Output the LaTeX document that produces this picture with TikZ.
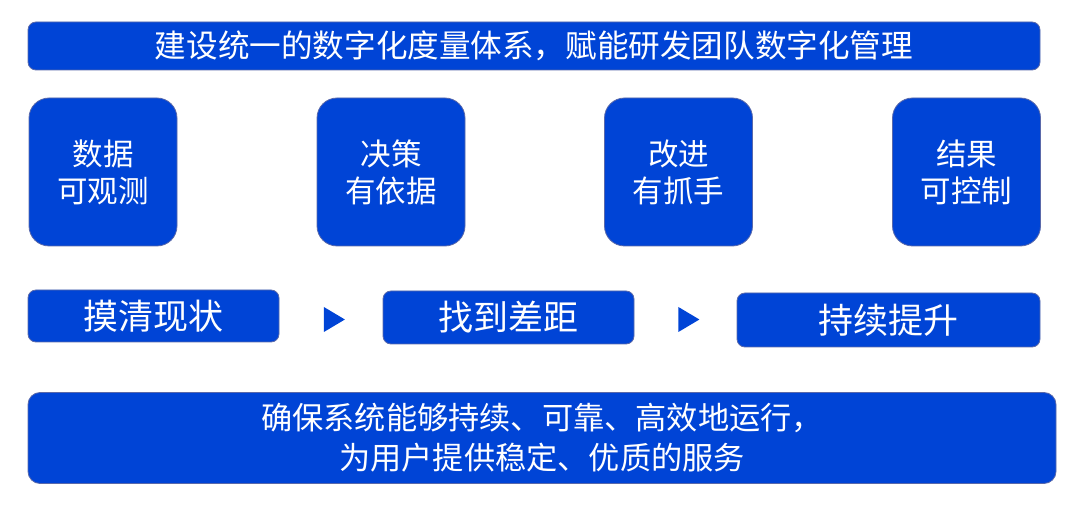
\documentclass[tikz,border=0pt]{standalone}
\usepackage{fontspec}
\setmainfont{Noto Sans CJK SC}
\usetikzlibrary{shapes.geometric}
\definecolor{bl}{RGB}{0,68,214}
\definecolor{bd}{RGB}{90,105,170}
\tikzset{
  bar/.style={draw=bd, line width=0.8pt, fill=bl, rounded corners=8pt, text=white, inner sep=0pt, align=center},
  sq/.style={draw=bd, line width=0.8pt, fill=bl, rounded corners=20pt, text=white, inner sep=0pt, align=center,
     minimum width=148pt, minimum height=148pt, font=\fontsize{30.5}{37}\selectfont},
  tri/.style={isosceles triangle, isosceles triangle apex angle=60, fill=bl, inner sep=0pt,
     minimum height=21pt, minimum width=25pt, isosceles triangle stretches}
}
\begin{document}
\begin{tikzpicture}[x=1pt,y=-1pt]
\useasboundingbox (0,0) rectangle (1080,513);
\node[bar, minimum width=1012pt, minimum height=48pt, font=\fontsize{31.6}{36}\selectfont] (top) at (534,46) {建设统一的数字化度量体系，赋能研发团队数字化管理};
\node[sq] (b1) at (103,172) {数据\\可观测};
\node[sq] (b2) at (391,172) {决策\\有依据};
\node[sq] (b3) at (678.5,172) {改进\\有抓手};
\node[sq] (b4) at (966.5,172) {结果\\可控制};
\node[bar, minimum width=251pt, minimum height=52pt, font=\fontsize{35}{40}\selectfont] (s1) at (153.5,316) {摸清现状};
\node[bar, minimum width=251pt, minimum height=53pt, font=\fontsize{35}{40}\selectfont] (s2) at (508.5,317.5) {找到差距};
\node[bar, minimum width=303pt, minimum height=54pt, font=\fontsize{35}{40}\selectfont] (s3) at (888.5,320) {持续提升};
\node[tri] (a1) at (331,319.5) {};
\node[tri] (a2) at (685.5,319.5) {};
\node[bar, rounded corners=12pt, minimum width=1028pt, minimum height=91pt, font=\fontsize{31.2}{40}\selectfont] (bot) at (542,438) {确保系统能够持续、可靠、高效地运行，\\为用户提供稳定、优质的服务};
\end{tikzpicture}
\end{document}
